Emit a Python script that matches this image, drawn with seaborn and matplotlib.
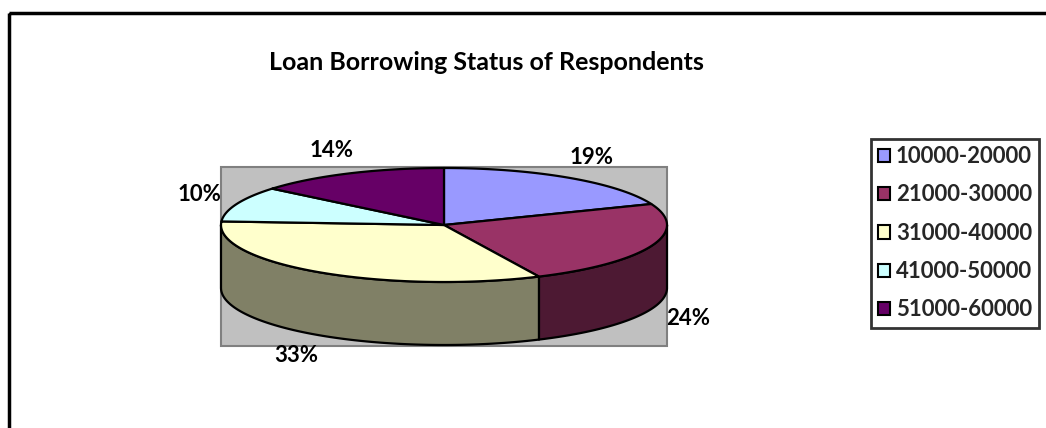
import numpy as np
import matplotlib
matplotlib.use("Agg")
import matplotlib.pyplot as plt
from matplotlib.patches import Polygon, Rectangle, Patch
import seaborn as sns

# ---- data ----
categories = ["10000-20000", "21000-30000", "31000-40000", "41000-50000", "51000-60000"]
shares = [19, 24, 33, 10, 14]
title = "Loan Borrowing Status of Respondents"

top_colors = ["#9999FF", "#993366", "#FFFFCC", "#CCFFFF", "#660066"]
side_colors = ["#4D4D80", "#4D1933", "#808066", "#668080", "#330033"]

sns.set_theme(style="white")
plt.rcParams['font.family'] = ['Lato', 'DejaVu Sans']

W, H = 1046, 428
fig = plt.figure(figsize=(W / 100, H / 100), dpi=100)
ax = fig.add_axes([0, 0, 1, 1])
ax.set_xlim(0, W)
ax.set_ylim(H, 0)
ax.axis("off")

# chart frame (extends beyond the image on right and bottom)
ax.add_patch(Rectangle((9, 13), W + 20, H + 20, fill=False, edgecolor="black", lw=2.5, zorder=1))

# pie geometry (pixels)
cx, cy, a, b, depth = 444, 225, 223, 57, 63

# plot-area gray box
ax.add_patch(Rectangle((cx - a, cy - b - 1), 2 * a, 2 * b + depth + 2,
                       facecolor="#C0C0C0", edgecolor="#808080", lw=1.5, zorder=2))

def pt(t):
    return cx + a * np.cos(t), cy - b * np.sin(t)

vals = np.array(shares, dtype=float)
frac = vals / vals.sum()
bounds = np.pi / 2 - 2 * np.pi * np.concatenate([[0], np.cumsum(frac)])

# side walls (front half: angles between -pi and 0)
for i in range(len(vals)):
    t0, t1 = bounds[i], bounds[i + 1]  # t0 > t1 (clockwise)
    for shift in (0, 2 * np.pi, -2 * np.pi):
        lo = max(t1 + shift, -np.pi)
        hi = min(t0 + shift, 0)
        if hi > lo:
            ts = np.linspace(hi, lo, 100)
            xs, ys = pt(ts)
            top_edge = np.column_stack([xs, ys])
            bot_edge = np.column_stack([xs, ys + depth])[::-1]
            poly = np.vstack([top_edge, bot_edge])
            ax.add_patch(Polygon(poly, closed=True, facecolor=side_colors[i],
                                 edgecolor="black", lw=1.6, joinstyle="round", zorder=3))

# top faces
for i in range(len(vals)):
    t0, t1 = bounds[i], bounds[i + 1]
    ts = np.linspace(t0, t1, 200)
    xs, ys = pt(ts)
    poly = np.vstack([[cx, cy], np.column_stack([xs, ys])])
    ax.add_patch(Polygon(poly, closed=True, facecolor=top_colors[i],
                         edgecolor="black", lw=1.6, joinstyle="round", zorder=4))

# percentage labels
for i in range(len(vals)):
    tm = (bounds[i] + bounds[i + 1]) / 2
    lx = cx + (a + 40) * np.cos(tm)
    ly = cy - (b + 25) * np.sin(tm)
    if np.sin(tm) < 0:
        ly += depth
    ax.text(lx, ly, f"{shares[i]:.0f}%", ha="center", va="center",
            fontsize=16, fontweight="bold", color="black", zorder=6)

# title
ax.text(486, 62, title, ha="center", va="center", fontsize=18,
        fontweight="bold", color="black", zorder=6)

# legend
handles = [Patch(facecolor=c, edgecolor="black", lw=1.5) for c in top_colors]
leg = ax.legend(handles, categories, loc="upper left",
                bbox_to_anchor=(871 / W, 1 - 139 / H), frameon=True,
                prop={"weight": "bold", "size": 16}, handlelength=0.55,
                handleheight=0.55, handletextpad=0.25, labelspacing=0.78,
                borderpad=0.32, borderaxespad=0, fancybox=False)
leg.get_frame().set_edgecolor("black")
leg.get_frame().set_linewidth(2)
leg.set_zorder(7)

fig.savefig("out.png", dpi=100)
